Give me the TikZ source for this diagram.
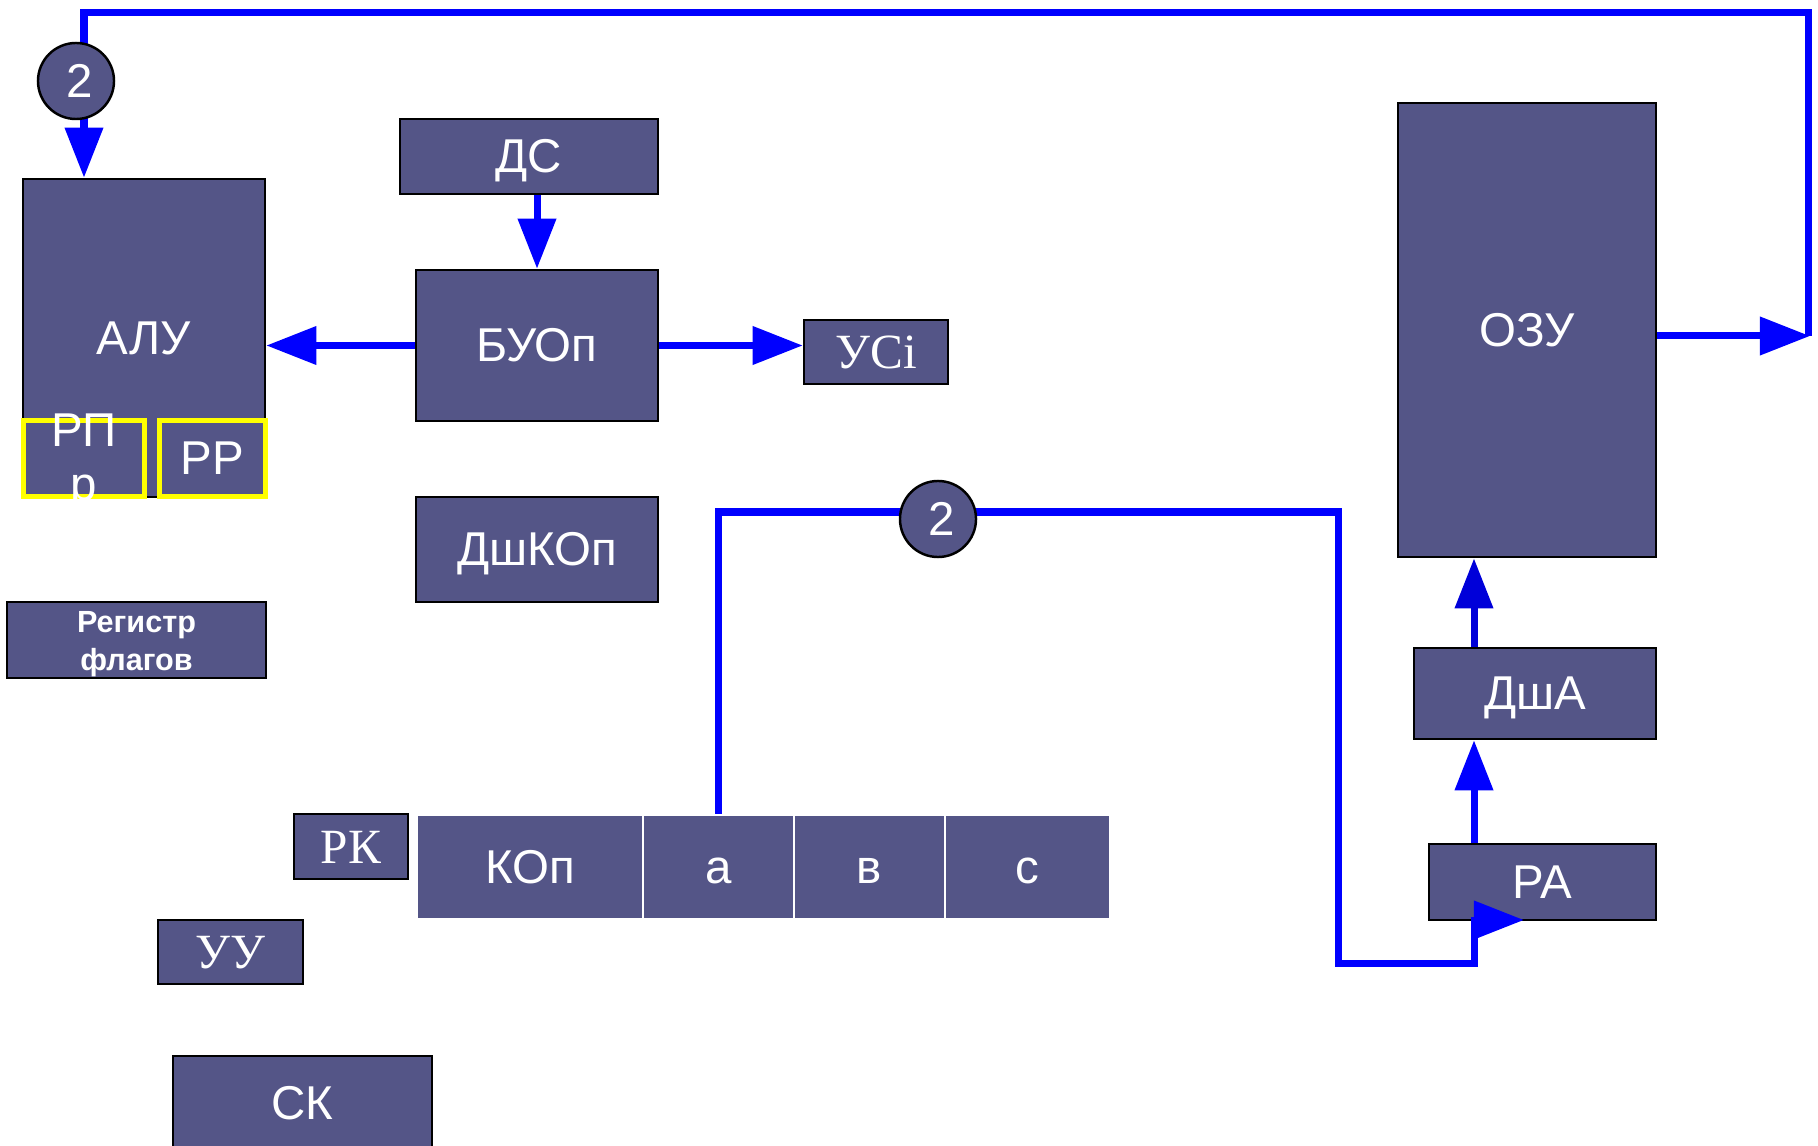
\documentclass[tikz,border=0pt]{standalone}
\usepackage{fontspec}
\setmainfont{Liberation Sans}
\newfontfamily\tmsfont{Liberation Serif}
\usetikzlibrary{arrows.meta, calc}
\definecolor{boxcol}{HTML}{545587}
\definecolor{buscol}{HTML}{0000FF}
\definecolor{regline}{HTML}{FFFF00}

\begin{document}
\begin{tikzpicture}[x=0.01cm, y=-0.01cm,
  blk/.style={draw=black, line width=0.7pt, fill=boxcol, text=white,
              inner sep=0pt, text height=12.15pt, text depth=2.84pt,
              font=\fontsize{13.5}{15.4}\selectfont},
  tms/.style={font=\tmsfont\fontsize{14}{16}\selectfont,
              text height=12.6pt, text depth=2.94pt},
  reg/.style={blk, draw=regline, line width=0.05cm},
  cell/.style={blk, draw=white, line width=0.02cm, minimum height=1.04cm},
  txt/.style={text=white, inner sep=0pt, align=center,
              font=\fontsize{13.5}{15.4}\selectfont},
  num/.style={circle, draw=black, line width=0.7pt, fill=boxcol, text=white,
              minimum size=0.76cm, inner sep=0pt,
              font=\fontsize{13.5}{16}\selectfont},
  bus/.style={line width=0.07cm, color=buscol},
  arr/.style={bus, -{Triangle[length=0.5cm, width=0.37cm]}}
]
\clip (0,0) rectangle (1818,1146);

% ALU with its registers
\node[blk, minimum width=2.42cm, minimum height=3.18cm] (alu) at (144,338) {АЛУ};
\node[reg, minimum width=1.21cm, minimum height=0.76cm] (rpr) at (84,458.5) {};
\node[txt] (rprl) at (84,462) {РП\\р};
\node[reg, minimum width=1.06cm, minimum height=0.76cm] (rr) at (212.5,458.5) {РР};
\node[blk, minimum width=2.59cm, minimum height=0.76cm] (flags) at (136.5,640) {};
\node[txt, font=\bfseries\fontsize{8.7}{10.8}\selectfont] (flagsl) at (136.5,644)
  {Регистр\\флагов};

% Operation control
\node[blk, minimum width=2.58cm, minimum height=0.75cm] (ds) at (529,156.5) {ДС};
\node[blk, minimum width=2.42cm, minimum height=1.51cm] (buop) at (537,345.5) {БУОп};
\node[blk, tms, minimum width=1.44cm, minimum height=0.64cm] (usi) at (876,352) {УСi};
\node[blk, minimum width=2.42cm, minimum height=1.05cm] (dshkop) at (537,549.5) {ДшКОп};

% Control unit
\node[blk, tms, minimum width=1.14cm, minimum height=0.65cm] (rk) at (351,846.5) {РК};
\node[blk, tms, minimum width=1.45cm, minimum height=0.64cm] (uu) at (230.5,952) {УУ};
\node[blk, minimum width=2.59cm, minimum height=0.94cm] (sk) at (302.5,1103) {СК};

% Instruction word
\node[cell, minimum width=2.26cm] (kop) at (530,867) {КОп};
\node[cell, minimum width=1.51cm] (ca) at (718.5,867) {а};
\node[cell, minimum width=1.51cm] (cb) at (869.5,867) {в};
\node[cell, minimum width=1.65cm] (cc) at (1027.5,867) {с};

% Memory
\node[blk, minimum width=2.58cm, minimum height=4.54cm] (ozu) at (1527,330) {ОЗУ};
\node[blk, minimum width=2.42cm, minimum height=0.91cm] (dsha) at (1535,693.5) {ДшА};
\node[blk, minimum width=2.27cm, minimum height=0.76cm] (ra) at (1542.5,882) {РА};

% Bend points
\coordinate (tr) at (1808,13);
\coordinate (tl) at (84,13);
\coordinate (oe) at (1810,336);
\coordinate (b1) at (1338,512);
\coordinate (b3) at (1474,963);
\coordinate (b5) at (1524,920);

% Local arrows
\draw[arr] (ds.south -| buop.north) -- (buop.north);
\draw[arr] (buop.west) -- (buop.west -| alu.east);
\draw[arr] (buop.east) -- (buop.east -| usi.west);
\draw[arr] (ra.north -| b3) -- (dsha.south -| b3);
\draw[arr, color=buscol!85!black] (dsha.north -| b3) -- (ozu.south -| b3);

% Memory to ALU
\draw[arr] (ozu.east |- oe) -- (oe);
\draw[arr] (tr |- oe) -- (tr) -- (tl) -- (alu.north -| tl);

% Address field to address register
\draw[arr] (ca.north) |- (b1) |- (b3) -- (b3 |- b5) -- (b5);

% Bus numbers
\node[num] (n1) at (76,81) {\hspace*{0.08cm}2};
\node[num] (n2) at (938,519) {\hspace*{0.08cm}2};

\end{tikzpicture}
\end{document}
